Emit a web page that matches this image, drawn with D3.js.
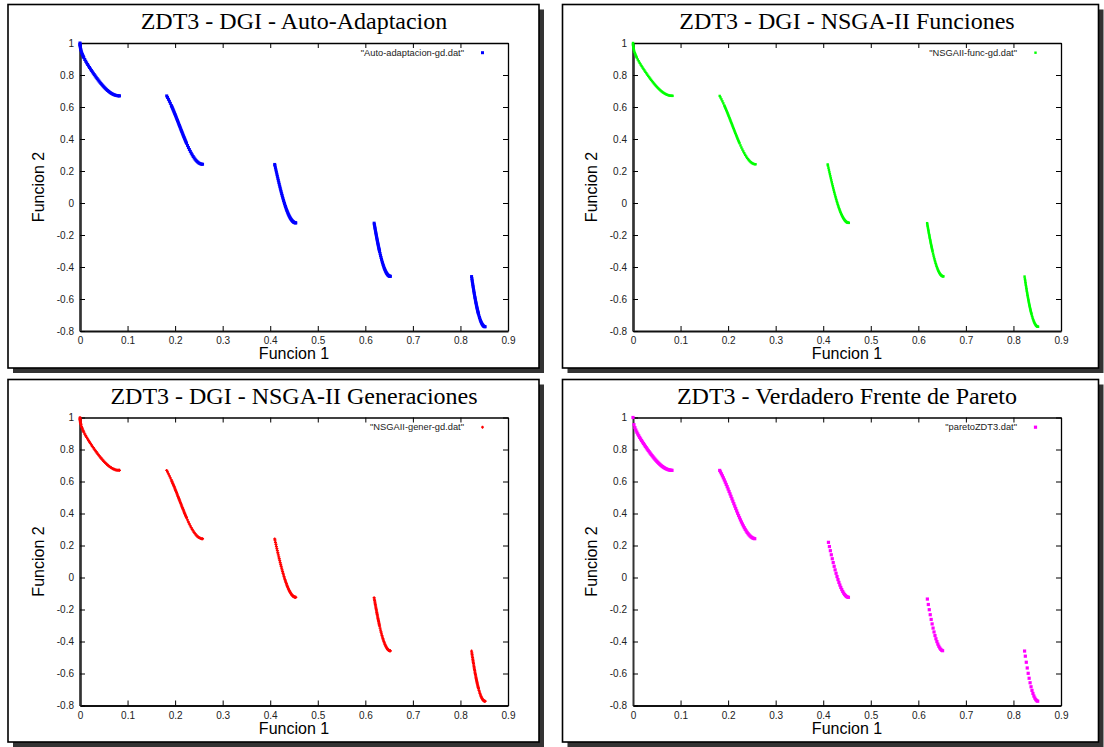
<!DOCTYPE html>
<html>
<head>
<meta charset="utf-8">
<script src="https://cdn.jsdelivr.net/npm/d3@7"></script>
<style>
  body { margin: 0; background: #fff; }
  svg { display: block; }
</style>
</head>
<body>
<svg id="chart" width="1104" height="747"></svg>
<script>
// ---- Axis ticks and texts ----
const xTicks = [0, 0.1, 0.2, 0.3, 0.4, 0.5, 0.6, 0.7, 0.8, 0.9];
const xTickLabels = ["0", "0.1", "0.2", "0.3", "0.4", "0.5", "0.6", "0.7", "0.8", "0.9"];
const yTicks = [-0.8, -0.6, -0.4, -0.2, 0, 0.2, 0.4, 0.6, 0.8, 1];
const yTickLabels = ["-0.8", "-0.6", "-0.4", "-0.2", "0", "0.2", "0.4", "0.6", "0.8", "1"];
const xLabel = "Funcion 1";
const yLabel = "Funcion 2";

const titles = [
  "ZDT3 - DGI - Auto-Adaptacion",
  "ZDT3 - DGI - NSGA-II Funciones",
  "ZDT3 - DGI - NSGA-II Generaciones",
  "ZDT3 - Verdadero Frente de Pareto"
];
const legendLabels = [
  "\"Auto-adaptacion-gd.dat\"",
  "\"NSGAII-func-gd.dat\"",
  "\"NSGAII-gener-gd.dat\"",
  "\"paretoZDT3.dat\""
];

// ---- Final populations of the three DGI runs (f1, f2); the runs coincide at this scale ----
const aproxDGI = [
  [0, 1], [0.00005, 0.9929], [0.0001, 0.9900], [0.0002, 0.9859], [0.0004, 0.9800],
  [0.0007, 0.9735], [0.001, 0.9684], [0.0015, 0.9612], [0.002, 0.9552], [0.003, 0.9450],
  [0.004, 0.9363], [0.005, 0.9285], [0.006, 0.9214], [0.007, 0.9148], [0.008, 0.9086],
  [0.010, 0.8969], [0.012, 0.8860], [0.014, 0.8757], [0.016, 0.8658], [0.018, 0.8562],
  [0.020, 0.8468], [0.022, 0.8377], [0.024, 0.8287], [0.026, 0.8198], [0.028, 0.8111],
  [0.030, 0.8025], [0.032, 0.7941], [0.034, 0.7858], [0.036, 0.7777], [0.038, 0.7697],
  [0.040, 0.7620], [0.042, 0.7544], [0.044, 0.7470], [0.046, 0.7399], [0.048, 0.7330],
  [0.050, 0.7264], [0.052, 0.7201], [0.054, 0.7141], [0.056, 0.7084], [0.058, 0.7030],
  [0.060, 0.6980], [0.062, 0.6934], [0.064, 0.6891], [0.066, 0.6853], [0.068, 0.6818],
  [0.070, 0.6788], [0.072, 0.6762], [0.074, 0.6740], [0.076, 0.6723], [0.078, 0.6710],
  [0.080, 0.6701], [0.082, 0.6697], [0.083, 0.6697],

  [0.1823, 0.6693], [0.184, 0.6597], [0.186, 0.6479], [0.188, 0.6356], [0.190, 0.6228],
  [0.192, 0.6096], [0.193, 0.6028], [0.194, 0.5959], [0.195, 0.5889], [0.196, 0.5819],
  [0.197, 0.5747], [0.198, 0.5675], [0.199, 0.5602], [0.200, 0.5528], [0.201, 0.5454],
  [0.202, 0.5379], [0.203, 0.5303], [0.204, 0.5228], [0.205, 0.5152], [0.206, 0.5075],
  [0.207, 0.4999], [0.208, 0.4922], [0.209, 0.4845], [0.210, 0.4769], [0.211, 0.4692],
  [0.212, 0.4615], [0.213, 0.4539], [0.214, 0.4463], [0.215, 0.4387], [0.216, 0.4312],
  [0.217, 0.4237], [0.218, 0.4163], [0.219, 0.4089], [0.220, 0.4016], [0.221, 0.3944],
  [0.222, 0.3873], [0.223, 0.3803], [0.224, 0.3734], [0.226, 0.3599], [0.228, 0.3468],
  [0.230, 0.3343], [0.232, 0.3225], [0.234, 0.3112], [0.236, 0.3007], [0.238, 0.2909],
  [0.240, 0.2819], [0.242, 0.2737], [0.244, 0.2664], [0.246, 0.2600], [0.248, 0.2545],
  [0.250, 0.2500], [0.252, 0.2465], [0.254, 0.2440], [0.256, 0.2426], [0.2577, 0.2422],

  [0.4094, 0.2410], [0.410, 0.2330], [0.411, 0.2197], [0.412, 0.2065], [0.413, 0.1933],
  [0.414, 0.1803], [0.415, 0.1674], [0.416, 0.1546], [0.417, 0.1420], [0.418, 0.1295],
  [0.419, 0.1172], [0.420, 0.1051], [0.421, 0.0931], [0.422, 0.0814], [0.423, 0.0699],
  [0.424, 0.0586], [0.425, 0.0476], [0.426, 0.0368], [0.427, 0.0263], [0.428, 0.0160],
  [0.429, 0.0060], [0.430, -0.0036], [0.431, -0.0130], [0.432, -0.0220], [0.433, -0.0307],
  [0.434, -0.0391], [0.435, -0.0471], [0.436, -0.0548], [0.437, -0.0621], [0.438, -0.0691],
  [0.439, -0.0756], [0.440, -0.0818], [0.441, -0.0876], [0.442, -0.0930], [0.443, -0.0979],
  [0.444, -0.1025], [0.445, -0.1066], [0.446, -0.1103], [0.447, -0.1136], [0.448, -0.1164],
  [0.449, -0.1189], [0.450, -0.1208], [0.451, -0.1223], [0.452, -0.1234], [0.453, -0.1240],
  [0.4538, -0.1242],

  [0.6185, -0.1260], [0.619, -0.1347], [0.6195, -0.1433], [0.620, -0.1518], [0.6205, -0.1603],
  [0.621, -0.1687], [0.6215, -0.1769], [0.622, -0.1852], [0.6225, -0.1933], [0.623, -0.2013],
  [0.6235, -0.2092], [0.624, -0.2171], [0.6245, -0.2249], [0.625, -0.2325], [0.6255, -0.2401],
  [0.626, -0.2475], [0.6265, -0.2549], [0.627, -0.2622], [0.6275, -0.2693], [0.628, -0.2763],
  [0.6285, -0.2833], [0.629, -0.2901], [0.6295, -0.2968], [0.630, -0.3034], [0.631, -0.3162],
  [0.632, -0.3286], [0.633, -0.3405], [0.634, -0.3518], [0.635, -0.3627], [0.636, -0.3730],
  [0.637, -0.3827], [0.638, -0.3919], [0.639, -0.4006], [0.640, -0.4087], [0.641, -0.4162],
  [0.642, -0.4231], [0.643, -0.4294], [0.644, -0.4351], [0.645, -0.4402], [0.646, -0.4446],
  [0.647, -0.4485], [0.648, -0.4517], [0.649, -0.4543], [0.650, -0.4562], [0.651, -0.4575],
  [0.652, -0.4582], [0.6525, -0.4583],

  [0.8234, -0.4597], [0.824, -0.4718], [0.8245, -0.4818], [0.825, -0.4917], [0.8255, -0.5014],
  [0.826, -0.5110], [0.8265, -0.5204], [0.827, -0.5297], [0.8275, -0.5389], [0.828, -0.5479],
  [0.8285, -0.5568], [0.829, -0.5655], [0.8295, -0.5741], [0.830, -0.5825], [0.8305, -0.5908],
  [0.831, -0.5989], [0.8315, -0.6068], [0.832, -0.6146], [0.8325, -0.6222], [0.833, -0.6297],
  [0.8335, -0.6370], [0.834, -0.6441], [0.8345, -0.6510], [0.835, -0.6578], [0.8355, -0.6644],
  [0.836, -0.6708], [0.8365, -0.6770], [0.837, -0.6830], [0.8375, -0.6889], [0.838, -0.6946],
  [0.839, -0.7054], [0.840, -0.7154], [0.841, -0.7247], [0.842, -0.7332], [0.843, -0.7409],
  [0.844, -0.7478], [0.845, -0.7538], [0.846, -0.7591], [0.847, -0.7636], [0.848, -0.7672],
  [0.849, -0.7700], [0.850, -0.7720], [0.851, -0.7731], [0.8518, -0.7734]
];

// ---- True Pareto front of ZDT3 (f1, f2) ----
const paretoZDT3 = [
  [0, 1], [0.002, 0.9552], [0.004, 0.9363], [0.006, 0.9214], [0.008, 0.9086],
  [0.010, 0.8969], [0.012, 0.8860], [0.014, 0.8757], [0.016, 0.8658], [0.018, 0.8562],
  [0.020, 0.8468], [0.022, 0.8377], [0.024, 0.8287], [0.026, 0.8198], [0.028, 0.8111],
  [0.030, 0.8025], [0.032, 0.7941], [0.034, 0.7858], [0.036, 0.7777], [0.038, 0.7697],
  [0.040, 0.7620], [0.042, 0.7544], [0.044, 0.7470], [0.046, 0.7399], [0.048, 0.7330],
  [0.050, 0.7264], [0.052, 0.7201], [0.054, 0.7141], [0.056, 0.7084], [0.058, 0.7030],
  [0.060, 0.6980], [0.062, 0.6934], [0.064, 0.6891], [0.066, 0.6853], [0.068, 0.6818],
  [0.070, 0.6788], [0.072, 0.6762], [0.074, 0.6740], [0.076, 0.6723], [0.078, 0.6710],
  [0.080, 0.6701], [0.082, 0.6697],

  [0.1823, 0.6693], [0.184, 0.6597], [0.186, 0.6479], [0.188, 0.6356], [0.190, 0.6228],
  [0.192, 0.6096], [0.194, 0.5959], [0.196, 0.5819], [0.198, 0.5675], [0.200, 0.5528],
  [0.202, 0.5379], [0.204, 0.5228], [0.206, 0.5075], [0.208, 0.4922], [0.210, 0.4769],
  [0.212, 0.4615], [0.214, 0.4463], [0.216, 0.4312], [0.218, 0.4163], [0.220, 0.4016],
  [0.222, 0.3873], [0.224, 0.3734], [0.226, 0.3599], [0.228, 0.3468], [0.230, 0.3343],
  [0.232, 0.3225], [0.234, 0.3112], [0.236, 0.3007], [0.238, 0.2909], [0.240, 0.2819],
  [0.242, 0.2737], [0.244, 0.2664], [0.246, 0.2600], [0.248, 0.2545], [0.250, 0.2500],
  [0.252, 0.2465], [0.254, 0.2440], [0.256, 0.2426],

  [0.411, 0.2197], [0.413, 0.1933], [0.415, 0.1674], [0.417, 0.1420], [0.419, 0.1172],
  [0.421, 0.0931], [0.423, 0.0699], [0.425, 0.0476], [0.427, 0.0263], [0.429, 0.0060],
  [0.431, -0.0130], [0.433, -0.0307], [0.435, -0.0471], [0.437, -0.0621], [0.439, -0.0756],
  [0.441, -0.0876], [0.443, -0.0979], [0.445, -0.1066], [0.447, -0.1136], [0.449, -0.1189],
  [0.451, -0.1223], [0.453, -0.1240],

  [0.619, -0.1347], [0.621, -0.1687], [0.623, -0.2013], [0.625, -0.2325], [0.627, -0.2622],
  [0.629, -0.2901], [0.631, -0.3162], [0.633, -0.3405], [0.635, -0.3627], [0.637, -0.3827],
  [0.639, -0.4006], [0.641, -0.4162], [0.643, -0.4294], [0.645, -0.4402], [0.647, -0.4485],
  [0.649, -0.4543], [0.651, -0.4575],

  [0.8234, -0.4597], [0.825, -0.4917], [0.827, -0.5297], [0.829, -0.5655], [0.831, -0.5989],
  [0.833, -0.6297], [0.835, -0.6578], [0.837, -0.6830], [0.839, -0.7054], [0.841, -0.7247],
  [0.843, -0.7409], [0.845, -0.7538], [0.847, -0.7636], [0.849, -0.7700], [0.851, -0.7731]
];

const seriesData = [aproxDGI, aproxDGI, aproxDGI, paretoZDT3];
const seriesColors = ["#0000ff", "#00ff00", "#ff0000", "#ff00ff"];

// ---- Panel geometry (frame box and plotting area, in page pixels) ----
const layout = [
  { box: [8, 4.5, 531, 363.5], plot: [80, 508, 43, 331] },
  { box: [562.5, 4.5, 536, 363.5], plot: [633, 1061, 43, 331] },
  { box: [8, 379.5, 531, 362.5], plot: [80, 508, 417.5, 705.5] },
  { box: [562.5, 379.5, 536, 362.5], plot: [633, 1061, 417.5, 705.5] }
];
// marker: [shape, size]
const markerStyle = [["square", 3], ["square", 2.4], ["plus", 3], ["square", 3.2]];

const svg = d3.select("#chart");
const SANS = "'Liberation Sans', Arial, Helvetica, sans-serif";
const SERIF = "'Liberation Serif', 'Times New Roman', Times, serif";

function drawMarker(g, pts, shape, size, color) {
  if (shape === "square") {
    g.selectAll("rect.pt").data(pts).join("rect")
      .attr("class", "pt")
      .attr("x", d => d[0] - size / 2)
      .attr("y", d => d[1] - size / 2)
      .attr("width", size).attr("height", size)
      .attr("fill", color);
  } else {
    const h = size / 2;
    g.selectAll("path.pt").data(pts).join("path")
      .attr("class", "pt")
      .attr("d", d => `M${d[0] - h},${d[1]}H${d[0] + h}M${d[0]},${d[1] - h}V${d[1] + h}`)
      .attr("stroke", color).attr("stroke-width", 1.3).attr("fill", "none");
  }
}

layout.forEach((L, i) => {
  const [bx, by, bw, bh] = L.box;
  const [left, right, top, bottom] = L.plot;
  const g = svg.append("g");

  // framed panel with drop shadow
  g.append("rect").attr("x", bx + 5).attr("y", by + 5).attr("width", bw).attr("height", bh)
    .attr("fill", "#333");
  g.append("rect").attr("x", bx).attr("y", by).attr("width", bw).attr("height", bh)
    .attr("fill", "#fff").attr("stroke", "#000").attr("stroke-width", 1.6);

  const x = d3.scaleLinear().domain([0, 0.9]).range([left, right]);
  const y = d3.scaleLinear().domain([-0.8, 1]).range([bottom, top]);

  // axes with inward ticks on all four sides
  const axB = d3.axisBottom(x).tickValues(xTicks).tickFormat((d, k) => xTickLabels[k])
    .tickSizeInner(-5).tickSizeOuter(0).tickPadding(6);
  const axT = d3.axisTop(x).tickValues(xTicks).tickFormat("")
    .tickSizeInner(-5).tickSizeOuter(0);
  const axL = d3.axisLeft(y).tickValues(yTicks).tickFormat((d, k) => yTickLabels[k])
    .tickSizeInner(-5).tickSizeOuter(0).tickPadding(6);
  const axR = d3.axisRight(y).tickValues(yTicks).tickFormat("")
    .tickSizeInner(-5).tickSizeOuter(0);

  const gT = g.append("g").attr("transform", `translate(0,${top})`).call(axT);
  const gR = g.append("g").attr("transform", `translate(${right},0)`).call(axR);
  const gB = g.append("g").attr("transform", `translate(0,${bottom})`).call(axB);
  const gL = g.append("g").attr("transform", `translate(${left},0)`).call(axL);

  [gT, gR, gB, gL].forEach(a => {
    a.selectAll(".tick line").attr("stroke", "#000").attr("stroke-width", 1);
    a.selectAll("text").attr("font-family", SANS).attr("font-size", 10).attr("fill", "#222");
  });
  gT.select(".domain").attr("stroke", "#000").attr("stroke-width", 1.3);
  gR.select(".domain").attr("stroke", "#000").attr("stroke-width", 1.3);
  gB.select(".domain").attr("stroke", "#111").attr("stroke-width", 2);
  gL.select(".domain").attr("stroke", "#333").attr("stroke-width", i === 3 ? 2 : 2.7);

  // title and axis labels
  g.append("text").attr("x", (left + right) / 2).attr("y", top - 14)
    .attr("text-anchor", "middle").attr("font-family", SERIF).attr("font-size", 24)
    .attr("fill", "#000").text(titles[i]);
  g.append("text").attr("x", (left + right) / 2).attr("y", bottom + 28)
    .attr("text-anchor", "middle").attr("font-family", SANS).attr("font-size", 16)
    .attr("fill", "#000").text(xLabel);
  g.append("text")
    .attr("transform", `translate(${left - 36.5},${(top + bottom) / 2}) rotate(-90)`)
    .attr("text-anchor", "middle").attr("font-family", SANS).attr("font-size", 16)
    .attr("fill", "#000").text(yLabel);

  // legend (top right inside the plot)
  const [shape, size] = markerStyle[i];
  const lx = right - 25.5, ly = top + 9.7;
  g.append("text").attr("x", lx - 18.5).attr("y", ly).attr("dy", "0.35em")
    .attr("text-anchor", "end").attr("font-family", SANS).attr("font-size", 9.3)
    .attr("fill", "#222").text(legendLabels[i]);
  drawMarker(g.append("g"), [[lx, ly]], shape, size, seriesColors[i]);

  // data points
  const pts = seriesData[i].map(d => [x(d[0]), y(d[1])]);
  drawMarker(g.append("g"), pts, shape, size, seriesColors[i]);
});
</script>
</body>
</html>
